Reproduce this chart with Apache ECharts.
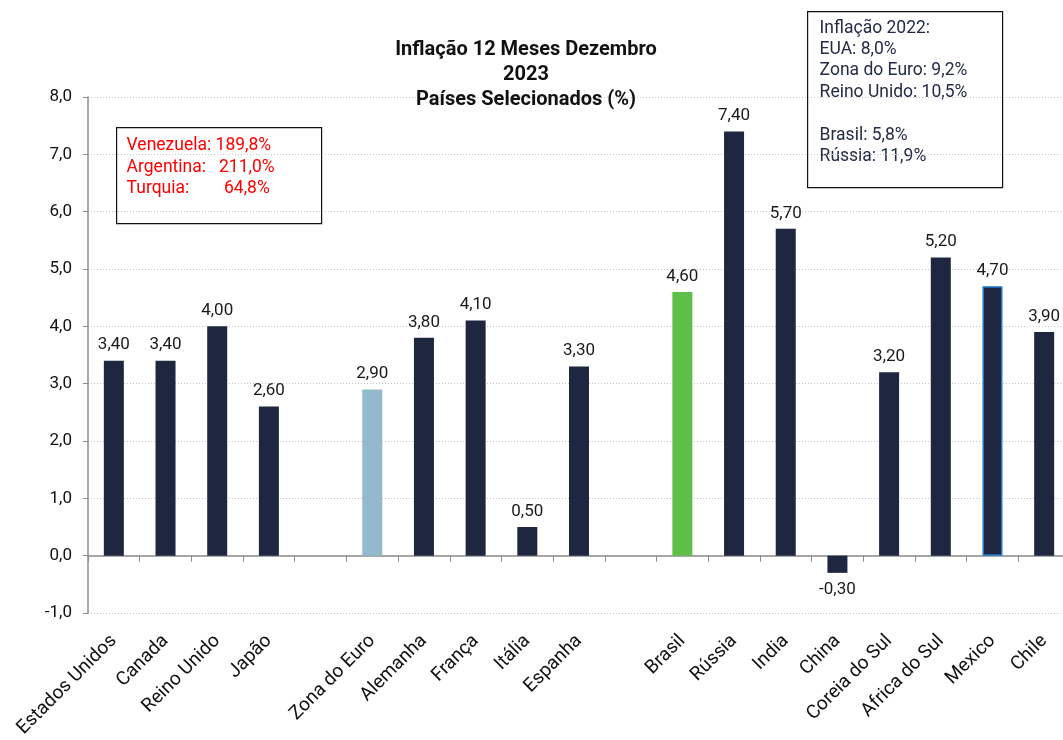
<!DOCTYPE html>
<html>
<head>
<meta charset="utf-8">
<script src="https://cdn.jsdelivr.net/npm/echarts@6/dist/echarts.min.js"></script>
<style>
  html, body { margin: 0; padding: 0; background: #ffffff; }
  #chart { width: 1063px; height: 740px; }
</style>
</head>
<body>
<div id="chart"></div>
<script>
// Country slots; empty strings leave a gap between the groups
const categories = [
  'Estados Unidos', 'Canada', 'Reino Unido', 'Japão', '',
  'Zona do Euro', 'Alemanha', 'França', 'Itália', 'Espanha', '',
  'Brasil', 'Rússia', 'India', 'China', 'Coreia do Sul', 'Africa do Sul', 'Mexico', 'Chile'
];
// 12-month inflation, December 2023 (%)
const inflation2023 = [
  3.40, 3.40, 4.00, 2.60, null,
  2.90, 3.80, 4.10, 0.50, 3.30, null,
  4.60, 7.40, 5.70, -0.30, 3.20, 5.20, 4.70, 3.90
];
const yTicks = { min: -1, max: 8, interval: 1 };

const highInflationNotes = ['Venezuela: 189,8%', 'Argentina:   211,0%', 'Turquia:        64,8%'];
const inflation2022Notes = [
  'Inflação 2022:', 'EUA: 8,0%', 'Zona do Euro: 9,2%', 'Reino Unido: 10,5%', '',
  'Brasil: 5,8%', 'Rússia: 11,9%'
];

const NAVY = '#1e2640';
const specialStyle = {
  'Zona do Euro': { color: '#93b9cd' },
  'Brasil': { color: '#5dbf47' },
  'Mexico': { color: NAVY, borderColor: '#1f78c8', borderWidth: 1.5 }
};

const fmt = (v, d) => v.toFixed(d).replace('.', ',');

const barData = inflation2023.map((v, i) => {
  if (v === null) return '-';
  const st = specialStyle[categories[i]];
  const item = { value: v };
  if (st) item.itemStyle = st;
  if (v < 0) item.label = { position: 'bottom', distance: 8 };
  return item;
});

const chart = echarts.init(document.getElementById('chart'), null, { renderer: 'canvas' });
chart.setOption({
  animation: false,
  backgroundColor: '#ffffff',
  textStyle: { fontFamily: 'Roboto' },
  title: {
    text: 'Inflação 12 Meses Dezembro\n2023\nPaíses Selecionados (%)',
    left: 521,
    top: 32,
    textAlign: 'center',
    textStyle: { fontFamily: 'Roboto', fontSize: 20, fontWeight: 'bold', color: '#111111', lineHeight: 25 }
  },
  grid: { left: 88, right: -7, top: 97, bottom: 127, containLabel: false, outerBoundsMode: 'none' },
  xAxis: {
    type: 'category',
    data: categories,
    axisLine: { onZero: true, lineStyle: { color: '#8c8c8c', width: 1.5 } },
    axisTick: { show: true, alignWithLabel: false, length: 6, lineStyle: { color: '#8c8c8c' } },
    axisLabel: {
      interval: 0,
      rotate: 45,
      margin: 25,
      fontFamily: 'Roboto',
      fontSize: 19,
      color: '#111111'
    }
  },
  yAxis: {
    type: 'value',
    min: yTicks.min,
    max: yTicks.max,
    interval: yTicks.interval,
    axisLine: { show: true, lineStyle: { color: '#8c8c8c', width: 1.5 } },
    axisTick: { show: true, length: 5, lineStyle: { color: '#8c8c8c' } },
    axisLabel: {
      margin: 16,
      fontFamily: 'Roboto',
      fontSize: 17,
      color: '#111111',
      formatter: v => fmt(v, 1)
    },
    splitLine: { show: true, lineStyle: { color: '#c4c4c4', type: [1, 2], width: 1 } }
  },
  series: [{
    type: 'bar',
    data: barData,
    barWidth: 20,
    itemStyle: { color: NAVY },
    label: {
      show: true,
      position: 'top',
      distance: 7,
      fontFamily: 'Roboto',
      fontSize: 17,
      color: '#1a1a1a',
      formatter: p => fmt(p.value, 2)
    }
  }],
  graphic: [
    {
      type: 'group',
      left: 116,
      top: 127,
      children: [
        { type: 'rect', shape: { x: 0, y: 0, width: 205, height: 96 },
          style: { fill: '#ffffff', stroke: '#111111', lineWidth: 1.2 } },
        { type: 'text', left: 10, top: 7,
          style: { text: highInflationNotes.join('\n'), fill: '#ff0000', font: '17.5px Roboto', lineHeight: 21.7 } }
      ]
    },
    {
      type: 'group',
      left: 807,
      top: 11,
      children: [
        { type: 'rect', shape: { x: 0, y: 0, width: 195, height: 176 },
          style: { fill: '#ffffff', stroke: '#111111', lineWidth: 1.2 } },
        { type: 'text', left: 12, top: 6,
          style: { text: inflation2022Notes.join('\n'), fill: '#242b48', font: '17.5px Roboto', lineHeight: 21.4 } }
      ]
    }
  ]
});
</script>
</body>
</html>
